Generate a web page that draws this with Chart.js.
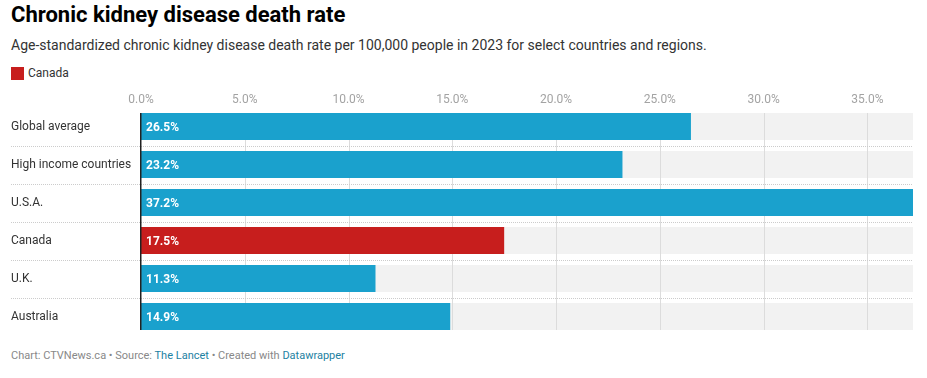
<!DOCTYPE html>
<html lang="en">
  <head>
    <meta charset="utf-8">
    <title>Chronic kidney disease death rate</title>
    <style>
      body {
        margin: 0;
        font-family: Roboto, "Noto Sans", sans-serif;
        background: #fff;
        width: 927px;
        height: 378px;
        position: relative;
        overflow: hidden;
      }
      .title {
        position: absolute;
        left: 11px;
        top: 2px;
        font-size: 22px;
        font-weight: bold;
        color: #000;
        margin: 0;
      }
      .subtitle {
        position: absolute;
        left: 11px;
        top: 37px;
        font-size: 14px;
        color: #333;
      }
      .legend {
        position: absolute;
        left: 11px;
        top: 66px;
        font-size: 12px;
        color: #333;
        display: flex;
        align-items: center;
      }
      .legend-swatch {
        display: inline-block;
        width: 13px;
        height: 13px;
        background: #c71e1d;
        margin-right: 4px;
      }
      .chart-box {
        position: absolute;
        left: 0;
        top: 88px;
        width: 927px;
        height: 250px;
      }
      .footer {
        position: absolute;
        left: 11px;
        top: 349px;
        font-size: 11px;
        color: #888;
      }
      .footer a {
        color: #1d81a2;
        text-decoration: none;
      }
    </style>
    <script src="https://cdn.jsdelivr.net/npm/chart.js@4.4.4/dist/chart.umd.min.js"></script>
  </head>
  <body>
    <h1 class="title">Chronic kidney disease death rate</h1>
    <div class="subtitle">Age-standardized chronic kidney disease death rate per 100,000 people in 2023 for select countries and regions.</div>
    <div class="legend"><span class="legend-swatch"></span>Canada</div>
    <div class="chart-box">
      <canvas id="chart"></canvas>
    </div>
    <div class="footer">Chart: CTVNews.ca • Source: <a href="#">The Lancet</a> • Created with <a href="#">Datawrapper</a></div>
    <script>
      const categories = ['Global average', 'High income countries', 'U.S.A.', 'Canada', 'U.K.', 'Australia'];
      const rates = [26.5, 23.2, 37.2, 17.5, 11.3, 14.9];
      const highlighted = 'Canada';

      const blue = '#1aa1cd';
      const red = '#c71e1d';
      const bar_colors = categories.map(name => name == highlighted ? red : blue);
      const max_rate = Math.max(...rates);

      function fmt(value) {
        return value.toFixed(1) + '%';
      }

      // grey track behind each bar, vertical grid, dotted row separators
      const decorations = {
        id: 'decorations',
        beforeDatasetsDraw(chart) {
          const ctx = chart.ctx;
          const area = chart.chartArea;
          const bars = chart.getDatasetMeta(0).data;
          const top = bars[0].y - bars[0].height / 2;
          const last = bars[bars.length - 1];
          const bottom = last.y + last.height / 2;
          ctx.save();
          ctx.fillStyle = '#f2f2f2';
          bars.forEach(bar => {
            ctx.fillRect(area.left, bar.y - bar.height / 2, area.right - area.left, bar.height);
          });
          const x_scale = chart.scales.x;
          ctx.strokeStyle = '#dcdcdc';
          ctx.lineWidth = 1;
          x_scale.ticks.forEach(tick => {
            if (tick.value <= 0) return;
            const x = Math.round(x_scale.getPixelForValue(tick.value)) + 0.5;
            ctx.beginPath();
            ctx.moveTo(x, top);
            ctx.lineTo(x, bottom);
            ctx.stroke();
          });
          ctx.strokeStyle = '#cccccc';
          ctx.setLineDash([1, 1]);
          for (let i = 0; i < bars.length - 1; i++) {
            const y = Math.round((bars[i].y + bars[i + 1].y) / 2) + 0.5;
            ctx.beginPath();
            ctx.moveTo(11, y);
            ctx.lineTo(area.right, y);
            ctx.stroke();
          }
          ctx.restore();
        },
        afterDatasetsDraw(chart) {
          const ctx = chart.ctx;
          const area = chart.chartArea;
          const bars = chart.getDatasetMeta(0).data;
          const top = bars[0].y - bars[0].height / 2;
          const last = bars[bars.length - 1];
          const bottom = last.y + last.height / 2;
          ctx.save();
          ctx.strokeStyle = '#222';
          ctx.lineWidth = 1.5;
          ctx.beginPath();
          ctx.moveTo(area.left - 0.25, top);
          ctx.lineTo(area.left - 0.25, bottom);
          ctx.stroke();
          ctx.fillStyle = '#fff';
          ctx.font = 'bold 12px Roboto, sans-serif';
          ctx.textAlign = 'left';
          ctx.textBaseline = 'middle';
          bars.forEach((bar, i) => {
            ctx.fillText(fmt(rates[i]), area.left + 5, bar.y + 1);
          });
          ctx.restore();
        }
      };

      const chart = new Chart(document.getElementById('chart'), {
        type: 'bar',
        data: {
          labels: categories,
          datasets: [{
            data: rates,
            backgroundColor: bar_colors,
            barPercentage: 27 / 38,
            categoryPercentage: 1
          }]
        },
        options: {
          indexAxis: 'y',
          responsive: true,
          maintainAspectRatio: false,
          animation: false,
          layout: {
            padding: { left: 11, right: 14, top: 0, bottom: 2.5 }
          },
          plugins: {
            legend: { display: false },
            tooltip: { enabled: false }
          },
          scales: {
            x: {
              position: 'top',
              min: 0,
              max: max_rate,
              grid: { display: false, drawTicks: false },
              border: { display: false },
              ticks: {
                stepSize: 5,
                includeBounds: false,
                padding: 0,
                color: '#a3a3a3',
                font: { family: 'Roboto', size: 12 },
                maxRotation: 0,
                callback: value => fmt(value)
              },
              afterFit(scale) {
                scale.height = 19.5;
              }
            },
            y: {
              grid: { display: false, drawTicks: false },
              border: { display: false },
              ticks: {
                crossAlign: 'far',
                padding: 0,
                color: '#333',
                font: { family: 'Roboto', size: 12 }
              },
              afterFit(scale) {
                scale.width = 130;
                scale.paddingTop = 0;
                scale.paddingBottom = 0;
              }
            }
          }
        },
        plugins: [decorations]
      });
    </script>
  </body>
</html>
